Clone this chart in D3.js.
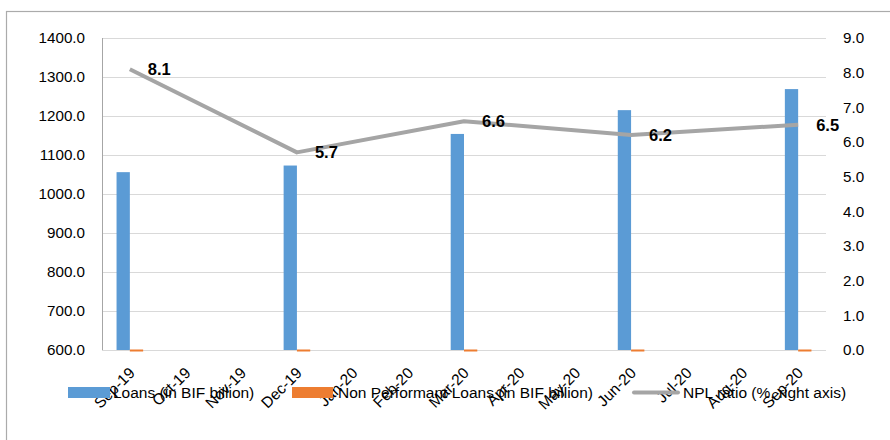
<!DOCTYPE html>
<html>
<head>
<meta charset="utf-8">
<script src="https://cdn.jsdelivr.net/npm/d3@7"></script>
<style>
  html, body { margin: 0; padding: 0; background: #fff; }
  svg { display: block; font-family: "Liberation Sans", Arial, sans-serif; }
</style>
</head>
<body>
<svg id="chart" width="890" height="440"></svg>
<script>
// Monthly categories on the x axis
const months = ["Sep-19","Oct-19","Nov-19","Dec-19","Jan-20","Feb-20","Mar-20",
                "Apr-20","May-20","Jun-20","Jul-20","Aug-20","Sep-20"];
// Quarter-end observations
const quarters = ["Sep-19","Dec-19","Mar-20","Jun-20","Sep-20"];
const loans = [1056, 1073, 1154, 1215, 1269];        // BIF billion
const npl = [85.5, 61.2, 76.2, 75.3, 82.5];           // BIF billion
const nplRatio = [8.1, 5.7, 6.6, 6.2, 6.5];           // %
const leftTicks = [600,700,800,900,1000,1100,1200,1300,1400];
const rightTicks = [0,1,2,3,4,5,6,7,8,9];
const seriesNames = ["Loans (in BIF billion)",
                     "Non Performant Loans (in BIF billion)",
                     "NPL ratio (%, right axis)"];
const colors = { loans: "#5B9BD5", npl: "#ED7D31", ratio: "#A5A5A5" };

const svg = d3.select("#chart");
const plot = { left: 102, right: 826, top: 38, bottom: 350 };
const FONT = "Liberation Sans, Arial, sans-serif";

// Outer chart frame
svg.append("rect")
  .attr("x", 6.5).attr("y", 11.5)
  .attr("width", 900).attr("height", 440)
  .attr("fill", "none").attr("stroke", "#ABABAB").attr("stroke-width", 1.2);

const x = d3.scaleBand().domain(months).range([plot.left, plot.right]);
const yL = d3.scaleLinear().domain([600, 1400]).range([plot.bottom, plot.top]);
const yR = d3.scaleLinear().domain([0, 9]).range([plot.bottom, plot.top]);

// Horizontal gridlines
svg.append("g").selectAll("line").data(leftTicks.slice(1)).join("line")
  .attr("x1", plot.left).attr("x2", plot.right)
  .attr("y1", d => Math.round(yL(d)) + 0.5).attr("y2", d => Math.round(yL(d)) + 0.5)
  .attr("stroke", "#D9D9D9").attr("stroke-width", 1);

// Left axis
const axL = svg.append("g").attr("transform", `translate(${plot.left},0)`)
  .call(d3.axisLeft(yL).tickValues(leftTicks).tickFormat(d3.format(".1f")).tickSize(0).tickPadding(17));
axL.select(".domain").remove();
axL.selectAll("text").attr("font-size", "15.2px").attr("fill", "#000").attr("font-family", FONT);

// Right axis
const axR = svg.append("g").attr("transform", `translate(${plot.right},0)`)
  .call(d3.axisRight(yR).tickValues(rightTicks).tickFormat(d3.format(".1f")).tickSize(0).tickPadding(17));
axR.select(".domain").remove();
axR.selectAll("text").attr("font-size", "15.2px").attr("fill", "#000").attr("font-family", FONT);

// Bars: two per quarter, clustered within the month band
const inner = d3.scaleBand().domain(["loans","npl"]).range([0, 26.6]);
const groupOffset = x.bandwidth() / 2 - 13.3;

svg.append("g").selectAll("rect").data(quarters).join("rect")
  .attr("x", d => x(d) + groupOffset + inner("loans"))
  .attr("width", inner.bandwidth())
  .attr("y", (d, i) => yL(loans[i]))
  .attr("height", (d, i) => yL(600) - yL(loans[i]))
  .attr("fill", colors.loans);

// Axis lines
svg.append("line")
  .attr("x1", plot.left + 0.5).attr("x2", plot.left + 0.5)
  .attr("y1", plot.top).attr("y2", plot.bottom)
  .attr("stroke", "#A6A6A6").attr("stroke-width", 1);
svg.append("line")
  .attr("x1", plot.left).attr("x2", plot.right)
  .attr("y1", plot.bottom + 0.5).attr("y2", plot.bottom + 0.5)
  .attr("stroke", "#D9D9D9").attr("stroke-width", 1);

// NPL amounts sit below the axis minimum; shown as a sliver at the baseline
svg.append("g").selectAll("rect").data(quarters).join("rect")
  .attr("x", d => x(d) + groupOffset + inner("npl"))
  .attr("width", inner.bandwidth())
  .attr("y", (d, i) => Math.min(yL(Math.max(npl[i], 600)), plot.bottom - 0.5))
  .attr("height", (d, i) => Math.max(yL(600) - yL(Math.max(npl[i], 600)), 2))
  .attr("fill", colors.npl);

// NPL ratio line on the right axis
const cx = d => x(d) + x.bandwidth() / 2;
const line = d3.line().x(d => cx(d)).y((d, i) => yR(nplRatio[i]));
svg.append("path").datum(quarters)
  .attr("d", line)
  .attr("fill", "none").attr("stroke", colors.ratio)
  .attr("stroke-width", 4).attr("stroke-linejoin", "round");

// Value labels to the right of each point
svg.append("g").selectAll("text").data(quarters).join("text")
  .attr("x", d => cx(d) + 18)
  .attr("y", (d, i) => yR(nplRatio[i]))
  .attr("dy", "0.36em")
  .attr("font-size", "16.5px").attr("font-weight", "bold").attr("fill", "#000")
  .attr("font-family", FONT)
  .text((d, i) => d3.format(".1f")(nplRatio[i]));

// Month labels, rotated
svg.append("g").selectAll("text").data(months).join("text")
  .attr("transform", d => `translate(${cx(d) + 2},${plot.bottom + 20}) rotate(-45)`)
  .attr("text-anchor", "end")
  .attr("dy", "0.36em")
  .attr("font-size", "15.5px").attr("fill", "#000").attr("font-family", FONT)
  .text(d => d);

// Legend
const lg = svg.append("g").attr("font-size", "15.5px").attr("fill", "#000").attr("font-family", FONT);
lg.append("rect").attr("x", 68).attr("y", 387).attr("width", 42).attr("height", 11).attr("fill", colors.loans);
lg.append("text").attr("x", 113).attr("y", 398).text(seriesNames[0]);
lg.append("rect").attr("x", 292).attr("y", 387).attr("width", 41).attr("height", 11).attr("fill", colors.npl);
lg.append("text").attr("x", 338).attr("y", 398).text(seriesNames[1]);
lg.append("line").attr("x1", 634).attr("x2", 678).attr("y1", 392.5).attr("y2", 392.5)
  .attr("stroke", colors.ratio).attr("stroke-width", 4).attr("stroke-linecap", "round");
lg.append("text").attr("x", 683).attr("y", 398).text(seriesNames[2]);
</script>
</body>
</html>
